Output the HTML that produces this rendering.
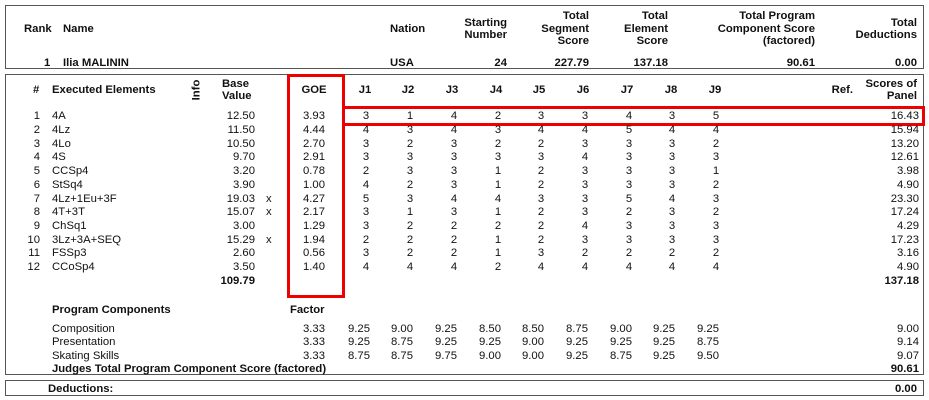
<!DOCTYPE html>
<html><head><meta charset="utf-8"><style>
body{margin:0;width:929px;height:400px;background:#fff;position:relative;overflow:hidden;font-family:"Liberation Sans",Arial,sans-serif;font-size:11.3px;color:#111}
div{position:absolute;white-space:nowrap;line-height:14px;height:14px}
.b{font-weight:bold}
.r{text-align:right;width:100px}
.c{text-align:center;width:40px}
.box{border:1.5px solid #555;height:auto}
.red{border:3px solid #e00;height:auto}
</style></head><body>
<div class="box" style="left:5px;top:5px;width:917px;height:62px"></div>
<div class="box" style="left:5px;top:74px;width:917px;height:299px"></div>
<div class="box" style="left:5px;top:380px;width:917px;height:14px"></div>
<div class="red" style="left:287px;top:74px;width:52px;height:218px"></div>
<div class="red" style="left:342px;top:106px;width:577px;height:14px"></div>

<div class="b" style="left:24px;top:22px">Rank</div>
<div class="b" style="left:63px;top:22px">Name</div>
<div class="b" style="left:390px;top:22px">Nation</div>
<div class="b r" style="left:407px;top:16px">Starting</div>
<div class="b r" style="left:407px;top:28px">Number</div>
<div class="b r" style="left:489px;top:9px">Total</div>
<div class="b r" style="left:489px;top:22px">Segment</div>
<div class="b r" style="left:489px;top:34px">Score</div>
<div class="b r" style="left:568px;top:9px">Total</div>
<div class="b r" style="left:568px;top:22px">Element</div>
<div class="b r" style="left:568px;top:34px">Score</div>
<div class="b" style="left:715px;top:9px;width:100px;text-align:right">Total Program</div>
<div class="b" style="left:655px;top:22px;width:160px;text-align:right">Component Score</div>
<div class="b r" style="left:715px;top:34px">(factored)</div>
<div class="b r" style="left:817px;top:16px">Total</div>
<div class="b r" style="left:817px;top:28px">Deductions</div>

<div class="b" style="left:44px;top:56px">1</div>
<div class="b" style="left:63px;top:56px">Ilia MALININ</div>
<div class="b" style="left:390px;top:56px">USA</div>
<div class="b r" style="left:407px;top:56px">24</div>
<div class="b r" style="left:489px;top:56px">227.79</div>
<div class="b r" style="left:568px;top:56px">137.18</div>
<div class="b r" style="left:715px;top:56px">90.61</div>
<div class="b r" style="left:817px;top:56px">0.00</div>

<div class="b" style="left:33px;top:83px">#</div>
<div class="b" style="left:52px;top:83px">Executed Elements</div>
<div class="b" style="left:186px;top:83px;transform:rotate(-90deg)">Info</div>
<div class="b" style="left:222px;top:77px">Base</div>
<div class="b" style="left:222px;top:89px">Value</div>
<div class="b c" style="left:294px;top:83px">GOE</div>
<div class="b c" style="left:345px;top:83px">J1</div>
<div class="b c" style="left:388px;top:83px">J2</div>
<div class="b c" style="left:432px;top:83px">J3</div>
<div class="b c" style="left:476px;top:83px">J4</div>
<div class="b c" style="left:519px;top:83px">J5</div>
<div class="b c" style="left:563px;top:83px">J6</div>
<div class="b c" style="left:607px;top:83px">J7</div>
<div class="b c" style="left:651px;top:83px">J8</div>
<div class="b c" style="left:695px;top:83px">J9</div>
<div class="b r" style="left:753px;top:83px">Ref.</div>
<div class="b r" style="left:817px;top:77px">Scores of</div>
<div class="b r" style="left:817px;top:89px">Panel</div>

<div id="rows"></div>
<script>
var rows=[["4A","12.50","","3.93",[3,1,4,2,3,3,4,3,5],"16.43"],
["4Lz","11.50","","4.44",[4,3,4,3,4,4,5,4,4],"15.94"],
["4Lo","10.50","","2.70",[3,2,3,2,2,3,3,3,2],"13.20"],
["4S","9.70","","2.91",[3,3,3,3,3,4,3,3,3],"12.61"],
["CCSp4","3.20","","0.78",[2,3,3,1,2,3,3,3,1],"3.98"],
["StSq4","3.90","","1.00",[4,2,3,1,2,3,3,3,2],"4.90"],
["4Lz+1Eu+3F","19.03","x","4.27",[5,3,4,4,3,3,5,4,3],"23.30"],
["4T+3T","15.07","x","2.17",[3,1,3,1,2,3,2,3,2],"17.24"],
["ChSq1","3.00","","1.29",[3,2,2,2,2,4,3,3,3],"4.29"],
["3Lz+3A+SEQ","15.29","x","1.94",[2,2,2,1,2,3,3,3,3],"17.23"],
["FSSp3","2.60","","0.56",[3,2,2,1,3,2,2,2,2],"3.16"],
["CCoSp4","3.50","","1.40",[4,4,4,2,4,4,4,4,4],"4.90"]];
var jc=[366,410,454,498,541,585,629,672,716];
var h="";
function d(cls,l,t,txt){h+='<div class="'+cls+'" style="left:'+l+'px;top:'+t+'px">'+txt+'</div>';}
rows.forEach(function(r,i){var y=[116,130,144,157,171,185,199,212,226,240,253,267][i]-7;
d("r",-60,y,i+1);d("",52,y,r[0]);d("r",155,y,r[1]);d("",266,y,r[2]);d("r",225,y,r[3]);
r[4].forEach(function(v,k){d("c",jc[k]-20,y,v)});d("r",819,y,r[5]);});
d("b r",155,274,"109.79");d("b r",819,274,"137.18");
d("b",52,303,"Program Components");d("b",290,303,"Factor");
var pc=[["Composition",["9.25","9.00","9.25","8.50","8.50","8.75","9.00","9.25","9.25"],"9.00"],
["Presentation",["9.25","8.75","9.25","9.25","9.00","9.25","9.25","9.25","8.75"],"9.14"],
["Skating Skills",["8.75","8.75","9.75","9.00","9.00","9.25","8.75","9.25","9.50"],"9.07"]];
var pr=[370,413,457,501,544,588,632,675,719];
pc.forEach(function(r,i){var y=[329,342,356][i]-7;d("",52,y,r[0]);d("r",225,y,"3.33");
r[1].forEach(function(v,k){d("r",pr[k]-100,y,v)});d("r",819,y,r[2]);});
d("b",52,362,"Judges Total Program Component Score (factored)");d("b r",819,362,"90.61");
d("b",48,382,"Deductions:");d("b r",817,382,"0.00");
document.getElementById("rows").outerHTML=h;
</script>
</body></html>
